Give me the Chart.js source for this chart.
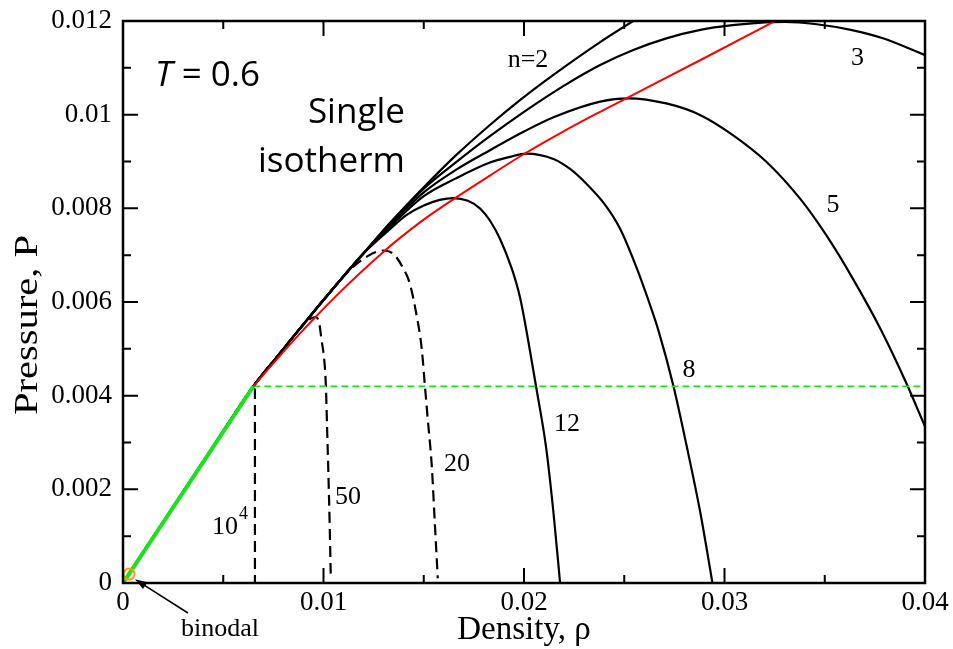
<!DOCTYPE html>
<html>
<head>
<meta charset="utf-8">
<title>Single isotherm T = 0.6</title>
<script src="https://cdn.jsdelivr.net/npm/chart.js@4/dist/chart.umd.min.js"></script>
<style>
html, body { margin: 0; padding: 0; background: #fff; }
#wrap { width: 953px; height: 649px; }
</style>
</head>
<body>
<div id="wrap"><canvas id="isoChart" width="953" height="649"></canvas></div>
<script>
// [density, pressure] pairs; all chain lengths share the low density branch
const sharedLow=[[0,0],[0.0022,0.00143],[0.0044,0.00285],[0.0065,0.0042],[0.0077,0.00484],[0.0088,0.00542]];
const sharedMid=[[0.0098,0.00594],[0.0108,0.00645],[0.0120,0.00704]];

const isoN2=[...sharedLow, ...sharedMid,
  [0.0133,0.00768],[0.0150,0.00845],[0.0166,0.00913],[0.0183,0.00978],[0.0198,0.01031],
  [0.0215,0.01086],[0.0238,0.01155],[0.0256,0.01204],[0.0270,0.0124]];
const isoN3=[...sharedLow, ...sharedMid,
  [0.0133,0.00767],[0.0150,0.00842],[0.0166,0.00898],[0.0183,0.00954],[0.0200,0.01006],
  [0.0220,0.01062],[0.0238,0.01106],[0.02545,0.01138],[0.0271,0.01163],[0.0288,0.01181],
  [0.0304,0.01191],[0.0320,0.01197],[0.0330,0.01198],[0.0346,0.01193],[0.0363,0.01181],
  [0.0379,0.01163],[0.0400,0.01127]];
const isoN5=[...sharedLow, ...sharedMid,
  [0.0133,0.00764],[0.0150,0.00834],[0.0166,0.00882],[0.0183,0.00924],[0.0200,0.00964],
  [0.0215,0.00995],[0.0238,0.01028],[0.0252,0.01035],[0.0271,0.01024],[0.0288,0.00999],
  [0.0304,0.00957],[0.0321,0.00899],[0.0338,0.00819],[0.0351,0.00741],[0.0364,0.0065],
  [0.0378,0.00541],[0.0391,0.00424],[0.0400,0.00334]];
const isoN8=[...sharedLow, ...sharedMid,
  [0.0133,0.0076],[0.0150,0.00826],[0.0166,0.00864],[0.0183,0.00898],[0.0193,0.0091],
  [0.0201,0.00917],[0.0215,0.00905],[0.0223,0.00884],[0.0231,0.00853],[0.0240,0.0081],
  [0.0248,0.00756],[0.0256,0.00675],[0.0263,0.00592],[0.0267,0.0054],[0.02745,0.00421],
  [0.0281,0.00295],[0.0288,0.00149],[0.0294,0]];
const isoN12=[...sharedLow, ...sharedMid,
  [0.0133,0.00755],[0.01415,0.00786],[0.0150,0.00806],[0.0158,0.00818],[0.01647,0.00822],
  [0.0172,0.00816],[0.0178,0.0080],[0.0183,0.00774],[0.0188,0.00735],[0.0194,0.0067],
  [0.0198,0.0061],[0.0202,0.0052],[0.0206,0.0042],[0.0211,0.0029],[0.02147,0.0015],[0.0218,0]];
const isoN20=[...sharedLow,
  [0.0098,0.00594],[0.0108,0.00645],[0.0115,0.00676],[0.0122,0.00698],[0.0130,0.0071],
  [0.0135,0.00702],[0.0140,0.0067],[0.0143,0.0064],[0.01465,0.0057],[0.0149,0.0050],
  [0.01506,0.0042],[0.0152,0.0035],[0.0154,0.0025],[0.01555,0.0013],[0.0157,0.0001]];
const isoN50=[...sharedLow,
  [0.0093,0.00563],[0.00958,0.00568],[0.00976,0.0056],[0.0099,0.0052],[0.01005,0.0047],
  [0.01012,0.0042],[0.01018,0.0033],[0.01024,0.0024],[0.0103,0.0014],[0.01036,0.0002]];
const isoN10k=[[0,0],[0.0022,0.00143],[0.0044,0.00285],[0.0065,0.0042],[0.00658,0.00412],[0.00658,0.0021],[0.00658,0]];

// locus of the maxima, coexistence line and binodal
const maxLocus=[[0.0065,0.0042],[0.0077,0.00479],[0.00883,0.00533],[0.00958,0.00567],[0.0108,0.0062],
  [0.0118,0.00661],[0.01307,0.0071],[0.01365,0.00731],[0.0150,0.00776],[0.01664,0.00824],
  [0.0183,0.0087],[0.0200,0.00916],[0.0220,0.00965],[0.0238,0.01006],[0.0252,0.01037],
  [0.0290,0.01121],[0.03252,0.0120]];
const gasBranch=[[0.00005,0.00003],[0.0065,0.0042]];
const coexistence=[[0.0065,0.0042],[0.0400,0.0042]];
const binodalPoint=[[0.0003,0.00019]];

const xMajor=[0,0.01,0.02,0.03,0.04];
const xMinor=[0.005,0.015,0.025,0.035];
const yMajor=[0,0.002,0.004,0.006,0.008,0.01,0.012];
const yMinor=[0.001,0.003,0.005,0.007,0.009,0.011];
const xTickLabels=['0','0.01','0.02','0.03','0.04'];
const yTickLabels=['0','0.002','0.004','0.006','0.008','0.01','0.012'];

const curveLabels=[
  {text:'n=2', x:0.0202, y:0.01117},
  {text:'3', x:0.03663, y:0.01121},
  {text:'5', x:0.03541, y:0.00807},
  {text:'8', x:0.02823, y:0.00455},
  {text:'12', x:0.02214, y:0.0034},
  {text:'20', x:0.01666, y:0.00254},
  {text:'50', x:0.01122, y:0.00183},
  {text:'10', x:0.00509, y:0.0012},
  {text:'binodal', x:0.00484, y:-0.00098}
];
const superLabel={text:'4', x:0.00601, y:0.00147};
const arrowFrom=[0.00324,-0.00064];
const arrowTo=[0.0006,0.00008];

const serif='"Liberation Serif", "Times New Roman", serif';
const sans='"Open Sans", "Noto Sans", sans-serif';

const toXY=pts=> pts.map(([x, y])=> ({x, y}));

function curve(pts, color, width, dash, smooth) {
  return {
    data: toXY(pts),
    showLine: true,
    borderColor: color,
    backgroundColor: color,
    borderWidth: width,
    borderDash: dash || [],
    pointRadius: 0,
    cubicInterpolationMode: smooth ? 'monotone' : 'default',
    tension: 0,
    fill: false
  };
}

const dashed=[11, 6];

// frame, inward ticks and all text inside the plot
const overlay={
  id: 'overlay',
  afterDraw(chart) {
    const {ctx, chartArea: a, scales: {x, y}}=chart;
    ctx.save();
    ctx.strokeStyle='#000';
    ctx.fillStyle='#000';

    ctx.lineWidth=2;
    ctx.beginPath();
    const tickX=(v, len)=> {
      const px=x.getPixelForValue(v);
      ctx.moveTo(px, a.bottom); ctx.lineTo(px, a.bottom - len);
      ctx.moveTo(px, a.top); ctx.lineTo(px, a.top + len);
    };
    const tickY=(v, len)=> {
      const py=y.getPixelForValue(v);
      ctx.moveTo(a.left, py); ctx.lineTo(a.left + len, py);
      ctx.moveTo(a.right, py); ctx.lineTo(a.right - len, py);
    };
    xMajor.forEach(v=> tickX(v, 15));
    xMinor.forEach(v=> tickX(v, 8));
    yMajor.forEach(v=> tickY(v, 15));
    yMinor.forEach(v=> tickY(v, 8));
    ctx.stroke();

    ctx.lineWidth=2.5;
    ctx.strokeRect(a.left, a.top, a.right - a.left, a.bottom - a.top);

    ctx.font='26px ' + serif;
    ctx.textAlign='center';
    ctx.textBaseline='middle';
    curveLabels.forEach(l=> ctx.fillText(l.text, x.getPixelForValue(l.x), y.getPixelForValue(l.y)));
    ctx.font='18px ' + serif;
    ctx.fillText(superLabel.text, x.getPixelForValue(superLabel.x), y.getPixelForValue(superLabel.y));

    // arrow pointing at the binodal
    const x0=x.getPixelForValue(arrowFrom[0]), y0=y.getPixelForValue(arrowFrom[1]);
    const x1=x.getPixelForValue(arrowTo[0]), y1=y.getPixelForValue(arrowTo[1]);
    const ang=Math.atan2(y1 - y0, x1 - x0);
    ctx.lineWidth=1.6;
    ctx.beginPath();
    ctx.moveTo(x0, y0);
    ctx.lineTo(x1 - 8 * Math.cos(ang), y1 - 8 * Math.sin(ang));
    ctx.stroke();
    ctx.beginPath();
    ctx.moveTo(x1, y1);
    ctx.lineTo(x1 - 12 * Math.cos(ang) + 4 * Math.sin(ang), y1 - 12 * Math.sin(ang) - 4 * Math.cos(ang));
    ctx.lineTo(x1 - 12 * Math.cos(ang) - 4 * Math.sin(ang), y1 - 12 * Math.sin(ang) + 4 * Math.cos(ang));
    ctx.closePath();
    ctx.fill();

    // y axis title, stretched along its length
    ctx.save();
    ctx.translate(a.left - 95, (a.top + a.bottom) / 2 + 23);
    ctx.rotate(-Math.PI / 2);
    ctx.font='33px ' + serif;
    const yTitle='Pressure, P';
    ctx.scale(180 / ctx.measureText(yTitle).width, 1);
    ctx.fillText(yTitle, 0, 0);
    ctx.restore();

    // temperature and title text
    ctx.textBaseline='alphabetic';
    ctx.textAlign='left';
    const tx=x.getPixelForValue(0.0016), ty=y.getPixelForValue(0.01061);
    ctx.font='italic 35px ' + sans;
    ctx.fillText('T', tx, ty);
    const tw=ctx.measureText('T').width;
    ctx.font='35px ' + sans;
    ctx.fillText(' = 0.6', tx + tw, ty);
    ctx.textAlign='right';
    ctx.fillText('Single', x.getPixelForValue(0.01406), y.getPixelForValue(0.00982));
    ctx.fillText('isotherm', x.getPixelForValue(0.01406), y.getPixelForValue(0.00878));
    ctx.restore();
  }
};

new Chart(document.getElementById('isoChart'), {
  type: 'scatter',
  data: {
    datasets: [
      {
        data: toXY(binodalPoint),
        pointRadius: 5.5,
        pointBorderWidth: 2,
        pointBorderColor: '#ff9c00',
        pointBackgroundColor: 'rgba(0,0,0,0)',
        clip: false
      },
      curve(gasBranch, '#1ee01e', 4, null, false),
      curve(maxLocus, '#ff0000', 2, null, true),
      curve(coexistence, '#00f000', 1.4, [7, 4], false),
      curve(isoN2, '#000', 2.2, null, true),
      curve(isoN3, '#000', 2.2, null, true),
      curve(isoN5, '#000', 2.2, null, true),
      curve(isoN8, '#000', 2.2, null, true),
      curve(isoN12, '#000', 2.2, null, true),
      curve(isoN20, '#000', 2.2, dashed, true),
      curve(isoN50, '#000', 2.2, dashed, true),
      curve(isoN10k, '#000', 2.2, dashed, false)
    ]
  },
  options: {
    responsive: false,
    animation: false,
    devicePixelRatio: 1,
    layout: {padding: {top: 21, right: 28, left: 0, bottom: 0}},
    plugins: {legend: {display: false}, tooltip: {enabled: false}},
    scales: {
      x: {
        type: 'linear',
        min: 0,
        max: 0.04,
        afterBuildTicks: s=> { s.ticks=xMajor.map(v=> ({value: v})); },
        afterFit: s=> { s.height=66; },
        grid: {display: false, drawTicks: false},
        border: {display: false},
        ticks: {
          autoSkip: false,
          maxRotation: 0,
          padding: 4,
          color: '#000',
          font: {family: serif, size: 27},
          callback: (v, i)=> xTickLabels[i]
        },
        title: {
          display: true,
          text: 'Density, ρ',
          color: '#000',
          font: {family: serif, size: 33, lineHeight: 1},
          padding: {top: 0, bottom: 2}
        }
      },
      y: {
        type: 'linear',
        min: 0,
        max: 0.012,
        afterBuildTicks: s=> { s.ticks=yMajor.map(v=> ({value: v})); },
        afterFit: s=> { s.width=123; s.paddingTop=0; s.paddingBottom=0; },
        grid: {display: false, drawTicks: false},
        border: {display: false},
        ticks: {
          autoSkip: false,
          padding: 11,
          color: '#000',
          font: {family: serif, size: 27},
          callback: (v, i)=> yTickLabels[i]
        },
        title: {display: false}
      }
    }
  },
  plugins: [overlay]
});
</script>
</body>
</html>
